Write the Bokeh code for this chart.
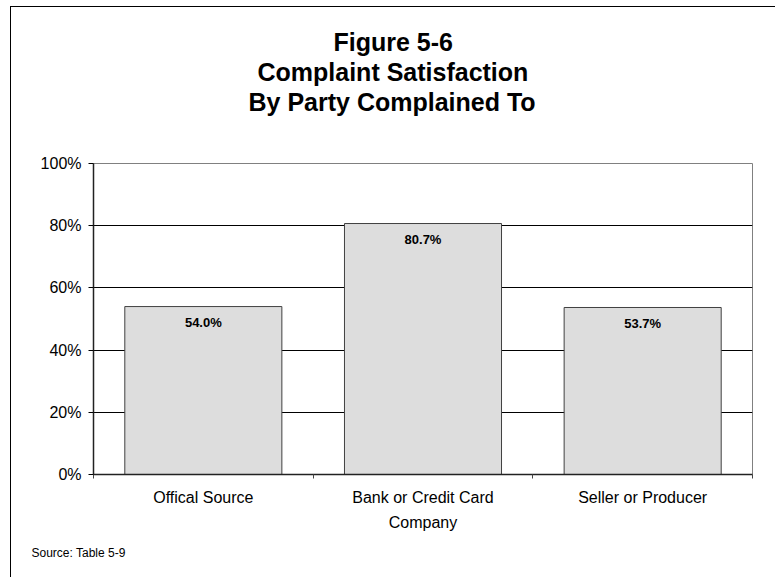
from bokeh.plotting import figure
from bokeh.models import (Range1d, FixedTicker, PrintfTickFormatter, Title, ColumnDataSource)
from bokeh.core.properties import value
from bokeh.embed import file_html
from bokeh.resources import INLINE

# ---- data ----
categories = ["Offical Source", "Bank or Credit Card\nCompany", "Seller or Producer"]
satisfaction = [54.0, 80.7, 53.7]
y_ticks = [0, 20, 40, 60, 80, 100]
title_lines = ["Figure 5-6", "Complaint Satisfaction", "By Party Complained To"]
source_note = "Source: Table 5-9"

FONT = "Liberation Sans"
# horizontal offsets (px from frame left) that centre each title line on the chart
title_offsets = [240, 164, 155]

xs = [i + 0.5 for i in range(len(categories))]
src = ColumnDataSource(dict(x=xs, top=satisfaction,
                            lbl=[f"{v:.1f}%" for v in satisfaction]))

p = figure(width=765, height=571, output_backend="svg", toolbar_location=None,
           x_range=Range1d(0, len(categories)), y_range=Range1d(0, 100),
           min_border_left=82, min_border_right=24, min_border_top=156,
           min_border_bottom=104)
p.styles = {"position": "absolute", "left": "10px", "top": "6px",
            "border-left": "1px solid #000", "border-top": "1px solid #000"}

p.outline_line_color = "#808080"
p.outline_line_width = 1
p.background_fill_color = "white"
p.border_fill_color = "white"

# grid
p.xgrid.visible = False
p.ygrid.ticker = FixedTicker(ticks=y_ticks[1:])
p.ygrid.grid_line_color = "black"
p.ygrid.grid_line_width = 1

# bars
p.vbar(x="x", top="top", bottom=0, width=0.715, source=src,
       fill_color="#DDDDDD", line_color="#404040", line_width=1)
p.text(x="x", y="top", text="lbl", source=src, text_align="center",
       text_baseline="middle", y_offset=16, text_font=value(FONT),
       text_font_size="13px", text_font_style="bold", text_color="black")

# y axis
ya = p.yaxis[0]
ya.ticker = FixedTicker(ticks=y_ticks, minor_ticks=[])
ya.formatter = PrintfTickFormatter(format="%d%%")
ya.major_tick_out = 5
ya.major_tick_in = 0
ya.minor_tick_out = 0
ya.minor_tick_in = 0
ya.major_label_standoff = 7
ya.major_label_text_font = FONT
ya.major_label_text_font_size = "16px"
ya.major_label_text_color = "black"
ya.axis_line_color = "#222222"
ya.axis_line_width = 1.5
ya.major_tick_line_color = "black"

# x axis: labels at category centres, tick marks at category boundaries
xa = p.xaxis[0]
xa.ticker = FixedTicker(ticks=xs, minor_ticks=list(range(len(categories) + 1)))
xa.major_label_overrides = {x: c for x, c in zip(xs, categories)}
xa.major_tick_out = 0
xa.major_tick_in = 0
xa.minor_tick_out = 4
xa.minor_tick_in = 0
xa.minor_tick_line_color = "#444444"
xa.axis_line_color = "#222222"
xa.axis_line_width = 1.5
xa.major_label_standoff = 10
xa.major_label_text_font = FONT
xa.major_label_text_font_size = "16px"
xa.major_label_text_color = "black"
xa.major_label_text_line_height = 1.5

# spacer between frame and title block
p.add_layout(Title(text=" ", text_font_size="2px", standoff=44), "above")
# title lines (added innermost first)
for line, off in reversed(list(zip(title_lines, title_offsets))):
    p.add_layout(Title(text=line, align="left", offset=off, text_font=FONT,
                       text_font_size="25px", text_font_style="bold",
                       text_color="black", standoff=0), "above")

# source note
p.add_layout(Title(text=source_note, align="left", text_font=FONT,
                   text_font_size="12px", text_font_style="normal",
                   text_color="black", offset=-62, standoff=18), "below")

open("out.html", "w").write(file_html(p, INLINE))
